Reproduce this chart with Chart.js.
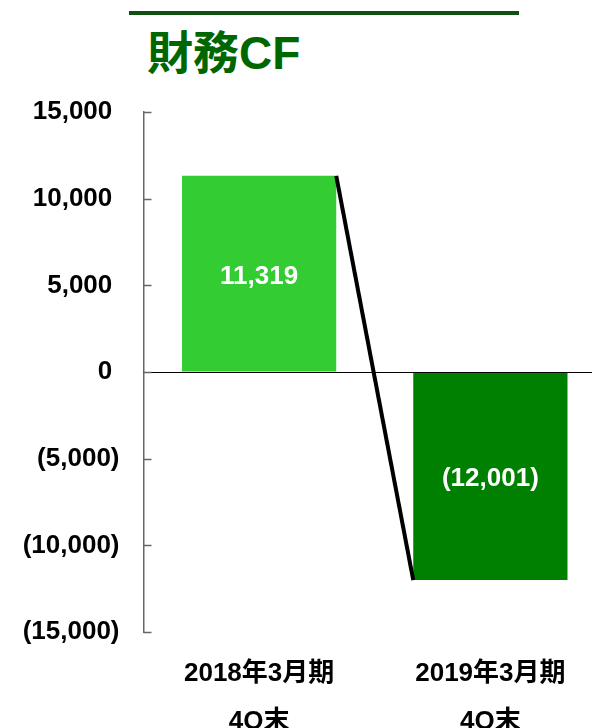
<!DOCTYPE html>
<html>
<head>
<meta charset="utf-8">
<script src="https://cdn.jsdelivr.net/npm/chart.js@4"></script>
<style>
  body { margin: 0; width: 592px; height: 728px; overflow: hidden; background: #fff; position: relative; }
  #rule { position: absolute; left: 129px; top: 11px; width: 390px; height: 4px; background: #0f4f0f; }
  #title { position: absolute; left: 147px; top: 30px; font: bold 46px "Liberation Sans", "Noto Sans CJK JP", sans-serif; color: #006600; line-height: 1; white-space: nowrap; }
  #myChart { position: absolute; left: 0; top: 0; }
</style>
</head>
<body>
<div id="rule"></div>
<div id="title">財務CF</div>
<canvas id="myChart" width="606" height="728"></canvas>
<script>
// data
var periods = [['2018年3月期', '4Q末'], ['2019年3月期', '4Q末']];
var cashFlow = [11319, -12001];
var barColors = ['#33CC33', '#008000'];
var yTicks = [-15000, -10000, -5000, 0, 5000, 10000, 15000];

var labelFont = 'bold 26px "Liberation Sans", "Noto Sans CJK JP", sans-serif';

function fmt(v) {
    var s = Math.abs(v).toLocaleString('en-US');
    return v < 0 ? '(' + s + ')' : s;
}

var extras = {
    id: 'extras',
    afterDatasetsDraw: function (chart) {
        var c = chart.ctx, area = chart.chartArea, y = chart.scales.y;
        var bars = chart.getDatasetMeta(0).data;
        c.save();
        // zero line
        var y0 = Math.round(y.getPixelForValue(0)) + 0.5;
        c.strokeStyle = '#000';
        c.lineWidth = 1;
        c.beginPath();
        c.moveTo(area.left, y0);
        c.lineTo(chart.width, y0);
        c.stroke();
        // inward tick marks
        c.strokeStyle = '#666';
        c.lineWidth = 1.5;
        yTicks.forEach(function (t) {
            var py = Math.round(y.getPixelForValue(t)) + 0.5;
            c.beginPath();
            c.moveTo(area.left, py);
            c.lineTo(area.left + 8, py);
            c.stroke();
        });
        // connector: top-right corner of first bar to bottom-left of second
        var a = bars[0], b = bars[1];
        c.strokeStyle = '#000';
        c.lineWidth = 4;
        c.beginPath();
        c.moveTo(a.x + a.width / 2, a.y);
        c.lineTo(b.x - b.width / 2, b.y);
        c.stroke();
        // values in bars
        c.fillStyle = '#fff';
        c.font = labelFont;
        c.textAlign = 'center';
        c.textBaseline = 'middle';
        bars.forEach(function (bar, i) {
            c.fillText(fmt(cashFlow[i]), bar.x, (bar.y + bar.base) / 2 + 3);
        });
        c.restore();
    }
};

var myChart = new Chart(document.getElementById('myChart').getContext('2d'), {
    type: 'bar',
    data: {
        labels: periods,
        datasets: [{
            data: cashFlow,
            backgroundColor: barColors,
            barPercentage: 0.667,
            categoryPercentage: 1
        }]
    },
    options: {
        responsive: false,
        animation: false,
        layout: { padding: { top: 112, right: 0, left: 0, bottom: 0 } },
        plugins: { legend: { display: false }, tooltip: { enabled: false } },
        scales: {
            x: {
                offset: true,
                grid: { display: false, drawTicks: false },
                border: { display: false },
                ticks: {
                    color: '#000',
                    padding: 17,
                    font: { family: '"Liberation Sans", "Noto Sans CJK JP", sans-serif', size: 26, weight: 'bold', lineHeight: 1.88 },
                    maxRotation: 0
                },
                afterFit: function (s) { s.height = 96; }
            },
            y: {
                min: -15000,
                max: 15000,
                afterBuildTicks: function (s) { s.ticks = yTicks.map(function (v) { return {value: v}; }); },
                grid: { drawOnChartArea: false, drawTicks: false },
                border: { display: true, color: '#666', width: 1.5 },
                ticks: {
                    color: '#000',
                    padding: 24,
                    font: { family: '"Liberation Sans", sans-serif', size: 26, weight: 'bold' },
                    // accounting style: positives leave room for the closing bracket
                    callback: function (v) { return v < 0 ? fmt(v) : fmt(v) + ' '; }
                },
                afterFit: function (s) { s.width = 143.5; }
            }
        }
    },
    plugins: [extras]
});
</script>
</body>
</html>
